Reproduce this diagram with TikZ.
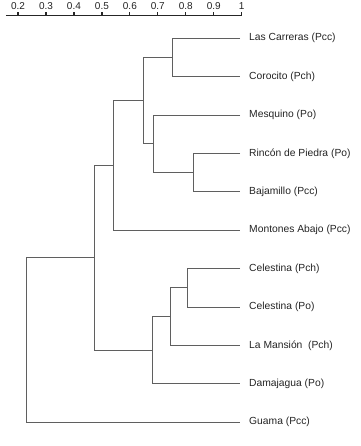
\documentclass[tikz,border=0pt]{standalone}
\usepackage{fontspec}
\setmainfont{Liberation Sans}
\definecolor{dendroline}{RGB}{95,95,95}
\definecolor{dendrotext}{RGB}{35,35,35}

\begin{document}
\begin{tikzpicture}[
    leaf/.style={
        anchor=west,
        inner xsep=9pt,
        inner ysep=1pt,
        font=\fontsize{10.3}{12}\selectfont,
        text=dendrotext
    },
    branch/.style={
        draw=dendroline,
        line width=0.9pt
    },
    axisline/.style={
        draw=black!85,
        line width=1.2pt
    },
    ticklabel/.style={
        anchor=south,
        inner sep=2pt,
        font=\fontsize{10}{12}\selectfont,
        text=dendrotext
    }
]

% Page size
\useasboundingbox (0,0) rectangle (360pt,-446pt);

\begin{scope}[shift={(-37.9pt,-38.3pt)}, x=279.6pt, y=-38.4pt]

% Similarity axis
\draw[axisline] (0.157,-0.6) coordinate (axstart) -- (1.0,-0.6) coordinate (axend);
\foreach \v [count=\i] in {0.2,0.3,0.4,0.5,0.6,0.7,0.8,0.9,1} {
    \draw[axisline] (\v,-0.6) -- ++(0,3.2pt) coordinate (tick\i);
    \node[ticklabel] (lab\i) at (tick\i) {\v};
}

% Leaves
\node[leaf] (lc) at (0.994,0) {Las Carreras (Pcc)};
\node[leaf] (co) at (0.994,1) {Corocito (Pch)};
\node[leaf] (me) at (0.994,2) {Mesquino (Po)};
\node[leaf] (ri) at (0.994,3) {Rincón de Piedra (Po)};
\node[leaf] (ba) at (0.994,4) {Bajamillo (Pcc)};
\node[leaf] (mo) at (0.994,5) {Montones Abajo (Pcc)};
\node[leaf] (cpch) at (0.994,6) {Celestina (Pch)};
\node[leaf] (cpo) at (0.994,7) {Celestina (Po)};
\node[leaf] (lm) at (0.994,8) {La Mansión\ \ (Pch)};
\node[leaf] (da) at (0.994,9) {Damajagua (Po)};
\node[leaf] (gu) at (0.994,10) {Guama (Pcc)};

% Cluster joins
\coordinate (k1) at (0.753,0.5);
\coordinate (k2) at (0.829,3.5);
\coordinate (k3) at (0.686,2.75);
\coordinate (k4) at (0.648,1.625);
\coordinate (k5) at (0.541,3.3125);
\coordinate (k6) at (0.806,6.5);
\coordinate (k7) at (0.746,7.25);
\coordinate (k8) at (0.682,8.125);
\coordinate (k9) at (0.472,5.71875);
\coordinate (k10) at (0.231,7.859);

% Branches
\draw[branch] (lc.west) -| (k1) |- (co.west);
\draw[branch] (ri.west) -| (k2) |- (ba.west);
\draw[branch] (me.west) -| (k3) |- (k2);
\draw[branch] (k1) -| (k4) |- (k3);
\draw[branch] (k4) -| (k5) |- (mo.west);
\draw[branch] (cpch.west) -| (k6) |- (cpo.west);
\draw[branch] (k6) -| (k7) |- (lm.west);
\draw[branch] (k7) -| (k8) |- (da.west);
\draw[branch] (k5) -| (k9) |- (k8);
\draw[branch] (k9) -| (k10) |- (gu.west);

\end{scope}

\end{tikzpicture}
\end{document}
